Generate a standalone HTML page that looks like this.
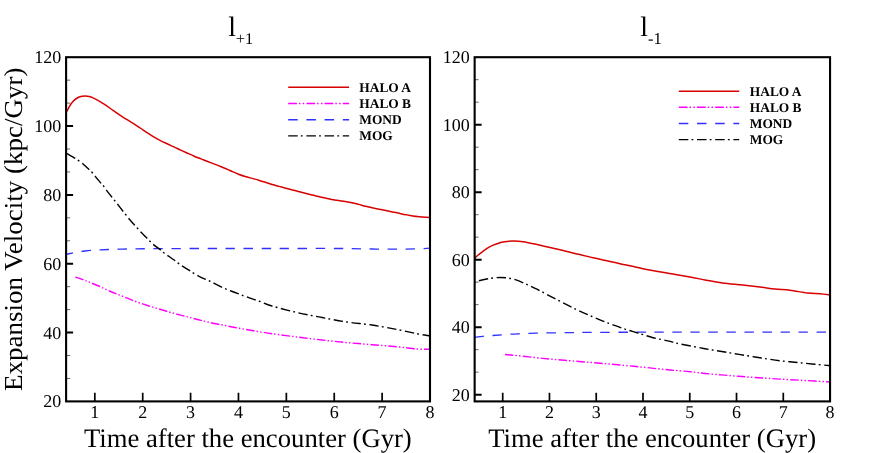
<!DOCTYPE html>
<html><head><meta charset="utf-8"><title>Expansion velocity</title>
<style>html,body{margin:0;padding:0;background:#fff;}svg{display:block;will-change:transform;}text{font-family:"Liberation Serif", serif;fill:#000;text-rendering:geometricPrecision;}</style>
</head><body>
<svg width="889" height="453" viewBox="0 0 889 453">
<rect width="889" height="453" fill="#fff"/>
<clipPath id="cl"><rect x="66.10" y="57.20" width="363.90" height="344.20"/></clipPath>
<g clip-path="url(#cl)" fill="none" stroke-width="1.40" stroke-linecap="butt" stroke-linejoin="round">
<path d="M66.00 112.60 C66.15 112.37 66.13 112.55 66.90 111.20 C67.67 109.85 69.32 106.38 70.60 104.50 C71.88 102.62 73.27 101.10 74.60 99.90 C75.93 98.70 77.28 97.92 78.60 97.30 C79.92 96.68 81.40 96.43 82.50 96.20 C83.60 95.97 84.08 95.85 85.20 95.90 C86.32 95.95 87.88 96.17 89.20 96.50 C90.52 96.83 91.57 97.22 93.10 97.90 C94.63 98.58 96.63 99.60 98.40 100.60 C100.17 101.60 101.70 102.58 103.70 103.90 C105.70 105.22 108.18 106.95 110.40 108.50 C112.62 110.05 114.80 111.68 117.00 113.20 C119.20 114.72 121.98 116.57 123.60 117.60 C125.22 118.63 125.05 118.40 126.70 119.40 C128.35 120.40 131.25 122.17 133.50 123.60 C135.75 125.03 137.95 126.50 140.20 128.00 C142.45 129.50 144.75 131.12 147.00 132.60 C149.25 134.08 151.45 135.57 153.70 136.90 C155.95 138.23 158.25 139.45 160.50 140.60 C162.75 141.75 164.95 142.75 167.20 143.80 C169.45 144.85 171.75 145.85 174.00 146.90 C176.25 147.95 178.45 149.05 180.70 150.10 C182.95 151.15 185.25 152.18 187.50 153.20 C189.75 154.22 191.95 155.25 194.20 156.20 C196.45 157.15 198.75 158.02 201.00 158.90 C203.25 159.78 205.45 160.63 207.70 161.50 C209.95 162.37 212.25 163.22 214.50 164.10 C216.75 164.98 218.95 165.88 221.20 166.80 C223.45 167.72 226.25 168.85 228.00 169.60 C229.75 170.35 229.95 170.53 231.70 171.30 C233.45 172.07 236.25 173.33 238.50 174.20 C240.75 175.07 242.95 175.80 245.20 176.50 C247.45 177.20 249.75 177.78 252.00 178.40 C254.25 179.02 256.45 179.55 258.70 180.20 C260.95 180.85 263.25 181.58 265.50 182.30 C267.75 183.02 269.95 183.82 272.20 184.50 C274.45 185.18 276.75 185.78 279.00 186.40 C281.25 187.02 283.45 187.60 285.70 188.20 C287.95 188.80 290.25 189.42 292.50 190.00 C294.75 190.58 296.95 191.12 299.20 191.70 C301.45 192.28 303.75 192.93 306.00 193.50 C308.25 194.07 310.45 194.57 312.70 195.10 C314.95 195.63 317.25 196.17 319.50 196.70 C321.75 197.23 324.17 197.83 326.20 198.30 C328.23 198.77 329.65 199.12 331.70 199.50 C333.75 199.88 336.25 200.27 338.50 200.60 C340.75 200.93 342.95 201.15 345.20 201.50 C347.45 201.85 349.75 202.22 352.00 202.70 C354.25 203.18 356.45 203.80 358.70 204.40 C360.95 205.00 363.25 205.73 365.50 206.30 C367.75 206.87 369.95 207.32 372.20 207.80 C374.45 208.28 376.75 208.75 379.00 209.20 C381.25 209.65 383.45 210.05 385.70 210.50 C387.95 210.95 390.25 211.43 392.50 211.90 C394.75 212.37 396.95 212.83 399.20 213.30 C401.45 213.77 403.75 214.27 406.00 214.70 C408.25 215.13 410.45 215.57 412.70 215.90 C414.95 216.23 417.25 216.47 419.50 216.70 C421.75 216.93 424.42 217.15 426.20 217.30 C427.98 217.45 429.53 217.55 430.20 217.60" stroke="#d80000" stroke-width="1.5"/>
<path d="M75.50 277.00 C77.08 277.58 81.33 279.08 85.00 280.50 C88.67 281.92 93.33 283.71 97.50 285.50 C101.67 287.29 105.83 289.46 110.00 291.25 C114.17 293.04 118.33 294.58 122.50 296.25 C126.67 297.92 130.83 299.71 135.00 301.25 C139.17 302.79 143.33 304.17 147.50 305.50 C151.67 306.83 155.83 308.00 160.00 309.25 C164.17 310.50 168.33 311.83 172.50 313.00 C176.67 314.17 180.83 315.17 185.00 316.25 C189.17 317.33 193.33 318.46 197.50 319.50 C201.67 320.54 205.83 321.58 210.00 322.50 C214.17 323.42 218.33 324.17 222.50 325.00 C226.67 325.83 230.83 326.70 235.00 327.50 C239.17 328.30 243.33 329.08 247.50 329.80 C251.67 330.52 255.92 331.15 260.00 331.80 C264.08 332.45 265.83 332.83 272.00 333.70 C278.17 334.57 288.67 335.95 297.00 337.00 C305.33 338.05 313.67 339.07 322.00 340.00 C330.33 340.93 338.67 341.82 347.00 342.60 C355.33 343.38 363.67 344.01 372.00 344.70 C380.33 345.39 389.50 346.03 397.00 346.75 C404.50 347.47 411.58 348.58 417.00 349.00 C422.42 349.42 427.42 349.21 429.50 349.25" stroke="#ff00ff" stroke-dasharray="8.6 2 1.5 2.15 1.5 2.15" stroke-dashoffset="0"/>
<path d="M66.00 254.60 C66.67 254.42 68.50 253.87 70.00 253.50 C71.50 253.13 72.50 252.82 75.00 252.40 C77.50 251.98 80.83 251.42 85.00 251.00 C89.17 250.58 93.75 250.22 100.00 249.90 C106.25 249.58 112.50 249.32 122.50 249.10 C132.50 248.88 143.75 248.70 160.00 248.60 C176.25 248.50 199.67 248.52 220.00 248.50 C240.33 248.48 262.00 248.50 282.00 248.50 C302.00 248.50 325.00 248.42 340.00 248.50 C355.00 248.58 362.00 248.88 372.00 249.00 C382.00 249.12 392.50 249.22 400.00 249.20 C407.50 249.18 411.97 249.07 417.00 248.90 C422.03 248.73 428.00 248.32 430.20 248.20" stroke="#3030ff" stroke-dasharray="9.4 8.6" stroke-dashoffset="2.0" stroke-width="1.3"/>
<path d="M66.00 153.00 C66.22 153.12 65.75 152.82 67.30 153.70 C68.85 154.58 73.38 157.12 75.30 158.30 C77.22 159.48 77.63 159.98 78.80 160.80 C79.97 161.62 80.57 161.73 82.30 163.20 C84.03 164.67 87.57 168.05 89.20 169.60 C90.83 171.15 91.12 171.40 92.10 172.50 C93.08 173.60 93.55 174.33 95.10 176.20 C96.65 178.07 99.97 182.03 101.40 183.70 C102.83 185.37 102.87 185.13 103.70 186.20 C104.53 187.27 104.98 188.22 106.40 190.10 C107.82 191.98 110.80 195.73 112.20 197.50 C113.60 199.27 113.97 199.65 114.80 200.70 C115.63 201.75 115.80 202.00 117.20 203.80 C118.60 205.60 121.77 209.68 123.20 211.50 C124.63 213.32 124.92 213.58 125.80 214.70 C126.68 215.82 127.02 216.43 128.50 218.20 C129.98 219.97 133.20 223.62 134.70 225.30 C136.20 226.98 136.53 227.25 137.50 228.30 C138.47 229.35 138.93 229.97 140.50 231.60 C142.07 233.23 145.33 236.50 146.90 238.10 C148.47 239.70 148.88 240.18 149.90 241.20 C150.92 242.22 151.23 242.75 153.00 244.20 C154.77 245.65 158.70 248.47 160.50 249.90 C162.30 251.33 162.68 251.92 163.80 252.80 C164.92 253.68 165.32 253.87 167.20 255.20 C169.08 256.53 173.23 259.43 175.10 260.80 C176.97 262.17 177.30 262.57 178.40 263.40 C179.50 264.23 179.82 264.58 181.70 265.80 C183.58 267.02 187.82 269.52 189.70 270.70 C191.58 271.88 191.90 272.23 193.00 272.90 C194.10 273.57 195.13 274.05 196.30 274.70 C197.47 275.35 197.72 275.71 200.00 276.80 C202.28 277.89 206.25 279.47 210.00 281.25 C213.75 283.03 218.33 285.62 222.50 287.50 C226.67 289.38 230.83 290.88 235.00 292.50 C239.17 294.12 243.33 295.70 247.50 297.20 C251.67 298.70 255.92 300.03 260.00 301.50 C264.08 302.97 265.83 304.17 272.00 306.00 C278.17 307.83 288.67 310.58 297.00 312.50 C305.33 314.42 313.67 315.92 322.00 317.50 C330.33 319.08 338.67 320.75 347.00 322.00 C355.33 323.25 363.67 323.75 372.00 325.00 C380.33 326.25 389.50 328.04 397.00 329.50 C404.50 330.96 411.58 332.71 417.00 333.75 C422.42 334.79 427.42 335.42 429.50 335.75" stroke="#000" stroke-dasharray="9.4 3.2 1.8 3.6" stroke-dashoffset="16.7"/>
</g>
<g stroke="#000" fill="none">
<path d="M66.10 378.45 h4.0M66.10 355.51 h4.0M66.10 309.61 h4.0M66.10 286.67 h4.0M66.10 240.77 h4.0M66.10 217.83 h4.0M66.10 171.93 h4.0M66.10 148.99 h4.0M66.10 103.09 h4.0M66.10 80.15 h4.0" stroke-width="0.6"/>
<path d="M66.10 332.56 h7.0M66.10 263.72 h7.0M66.10 194.88 h7.0M66.10 126.04 h7.0" stroke-width="2"/>
<path d="M94.83 401.40 v-8.6M142.71 401.40 v-8.6M190.59 401.40 v-8.6M238.47 401.40 v-8.6M286.36 401.40 v-8.6M334.24 401.40 v-8.6M382.12 401.40 v-8.6" stroke-width="1.7"/>
<rect x="66.10" y="57.20" width="363.90" height="344.20" stroke-width="2.1"/>
</g>
<g font-size="18px" transform="translate(0 -0.4)">
<text x="61.30" y="407.90" text-anchor="end">20</text>
<text x="61.30" y="339.06" text-anchor="end">40</text>
<text x="61.30" y="270.22" text-anchor="end">60</text>
<text x="61.30" y="201.38" text-anchor="end">80</text>
<text x="61.30" y="132.54" text-anchor="end">100</text>
<text x="61.30" y="63.70" text-anchor="end">120</text>
<text x="94.83" y="418.10" text-anchor="middle">1</text>
<text x="142.71" y="418.10" text-anchor="middle">2</text>
<text x="190.59" y="418.10" text-anchor="middle">3</text>
<text x="238.47" y="418.10" text-anchor="middle">4</text>
<text x="286.36" y="418.10" text-anchor="middle">5</text>
<text x="334.24" y="418.10" text-anchor="middle">6</text>
<text x="382.12" y="418.10" text-anchor="middle">7</text>
<text x="430.00" y="418.10" text-anchor="middle">8</text>
</g>
<text x="247.85" y="446.9" font-size="26.68px" text-anchor="middle">Time after the encounter (Gyr)</text>
<clipPath id="cr"><rect x="474.65" y="57.20" width="355.40" height="344.20"/></clipPath>
<g clip-path="url(#cr)" fill="none" stroke-width="1.40" stroke-linecap="butt" stroke-linejoin="round">
<path d="M474.60 258.60 C475.00 258.17 475.60 257.22 477.00 256.00 C478.40 254.78 480.83 252.87 483.00 251.30 C485.17 249.73 487.67 247.85 490.00 246.60 C492.33 245.35 494.83 244.55 497.00 243.80 C499.17 243.05 500.33 242.57 503.00 242.10 C505.67 241.63 509.67 241.07 513.00 241.00 C516.33 240.93 518.83 241.08 523.00 241.70 C527.17 242.32 532.58 243.53 538.00 244.70 C543.42 245.87 549.67 247.33 555.50 248.70 C561.33 250.07 566.75 251.38 573.00 252.90 C579.25 254.42 585.50 256.08 593.00 257.80 C600.50 259.52 609.67 261.38 618.00 263.20 C626.33 265.02 634.67 267.07 643.00 268.75 C651.33 270.43 660.17 271.88 668.00 273.25 C675.83 274.62 683.83 275.88 690.00 277.00 C696.17 278.12 699.58 279.00 705.00 280.00 C710.42 281.00 716.25 282.17 722.50 283.00 C728.75 283.83 736.25 284.33 742.50 285.00 C748.75 285.67 754.58 286.33 760.00 287.00 C765.42 287.67 770.00 288.46 775.00 289.00 C780.00 289.54 784.58 289.58 790.00 290.25 C795.42 290.92 802.50 292.42 807.50 293.00 C812.50 293.58 816.15 293.42 820.00 293.75 C823.85 294.08 828.83 294.79 830.60 295.00" stroke="#d80000" stroke-width="1.5"/>
<path d="M505.00 354.50 C507.17 354.70 511.67 355.05 518.00 355.70 C524.33 356.35 534.67 357.58 543.00 358.40 C551.33 359.22 559.67 359.90 568.00 360.60 C576.33 361.30 584.67 361.90 593.00 362.60 C601.33 363.30 609.67 364.03 618.00 364.80 C626.33 365.57 634.67 366.37 643.00 367.20 C651.33 368.03 660.17 369.05 668.00 369.80 C675.83 370.55 683.83 371.08 690.00 371.70 C696.17 372.32 698.33 372.85 705.00 373.50 C711.67 374.15 721.67 374.93 730.00 375.60 C738.33 376.27 746.67 376.92 755.00 377.50 C763.33 378.08 771.67 378.60 780.00 379.10 C788.33 379.60 796.57 380.02 805.00 380.50 C813.43 380.98 826.33 381.75 830.60 382.00" stroke="#ff00ff" stroke-dasharray="8.6 2 1.5 2.15 1.5 2.15" stroke-dashoffset="0"/>
<path d="M474.60 337.20 C476.00 337.05 479.93 336.58 483.00 336.30 C486.07 336.02 489.33 335.78 493.00 335.50 C496.67 335.22 500.83 334.88 505.00 334.60 C509.17 334.32 511.67 334.07 518.00 333.80 C524.33 333.53 534.33 333.20 543.00 333.00 C551.67 332.80 561.67 332.70 570.00 332.60 C578.33 332.50 581.33 332.47 593.00 332.40 C604.67 332.33 623.83 332.24 640.00 332.20 C656.17 332.16 663.33 332.16 690.00 332.15 C716.67 332.14 776.57 332.16 800.00 332.15 C823.43 332.14 825.50 332.11 830.60 332.10" stroke="#3030ff" stroke-dasharray="9.4 8.6" stroke-dashoffset="0.0" stroke-width="1.3"/>
<path d="M474.60 281.90 C474.96 281.79 474.52 281.77 476.75 281.25 C478.98 280.73 484.04 279.38 488.00 278.75 C491.96 278.12 496.33 277.46 500.50 277.50 C504.67 277.54 508.83 277.96 513.00 279.00 C517.17 280.04 521.33 281.96 525.50 283.75 C529.67 285.54 533.83 287.66 538.00 289.75 C542.17 291.84 546.33 294.13 550.50 296.30 C554.67 298.47 558.83 300.62 563.00 302.75 C567.17 304.88 571.33 307.09 575.50 309.10 C579.67 311.11 583.83 312.96 588.00 314.80 C592.17 316.64 596.33 318.47 600.50 320.15 C604.67 321.83 608.83 323.38 613.00 324.90 C617.17 326.42 621.33 327.95 625.50 329.30 C629.67 330.65 633.42 331.60 638.00 333.00 C642.58 334.40 648.00 336.38 653.00 337.70 C658.00 339.02 663.50 339.87 668.00 340.90 C672.50 341.93 673.83 342.60 680.00 343.90 C686.17 345.20 696.67 347.20 705.00 348.70 C713.33 350.20 721.67 351.52 730.00 352.90 C738.33 354.28 746.67 355.69 755.00 357.00 C763.33 358.31 771.67 359.71 780.00 360.75 C788.33 361.79 796.57 362.42 805.00 363.25 C813.43 364.08 826.33 365.33 830.60 365.75" stroke="#000" stroke-dasharray="9.4 3.2 1.8 3.6" stroke-dashoffset="13.5"/>
</g>
<g stroke="#000" fill="none">
<path d="M474.65 372.15 h4.0M474.65 349.66 h4.0M474.65 304.66 h4.0M474.65 282.17 h4.0M474.65 237.17 h4.0M474.65 214.68 h4.0M474.65 169.68 h4.0M474.65 147.19 h4.0M474.65 102.19 h4.0M474.65 79.70 h4.0" stroke-width="0.6"/>
<path d="M474.65 394.65 h7.0M474.65 327.16 h7.0M474.65 259.67 h7.0M474.65 192.18 h7.0M474.65 124.69 h7.0" stroke-width="2"/>
<path d="M502.71 401.40 v-8.6M549.47 401.40 v-8.6M596.23 401.40 v-8.6M643.00 401.40 v-8.6M689.76 401.40 v-8.6M736.52 401.40 v-8.6M783.29 401.40 v-8.6" stroke-width="1.7"/>
<rect x="474.65" y="57.20" width="355.40" height="344.20" stroke-width="2.1"/>
</g>
<g font-size="18px" transform="translate(0 -0.4)">
<text x="469.85" y="401.15" text-anchor="end">20</text>
<text x="469.85" y="333.66" text-anchor="end">40</text>
<text x="469.85" y="266.17" text-anchor="end">60</text>
<text x="469.85" y="198.68" text-anchor="end">80</text>
<text x="469.85" y="131.19" text-anchor="end">100</text>
<text x="469.85" y="63.70" text-anchor="end">120</text>
<text x="502.71" y="418.10" text-anchor="middle">1</text>
<text x="549.47" y="418.10" text-anchor="middle">2</text>
<text x="596.23" y="418.10" text-anchor="middle">3</text>
<text x="643.00" y="418.10" text-anchor="middle">4</text>
<text x="689.76" y="418.10" text-anchor="middle">5</text>
<text x="736.52" y="418.10" text-anchor="middle">6</text>
<text x="783.29" y="418.10" text-anchor="middle">7</text>
<text x="830.05" y="418.10" text-anchor="middle">8</text>
</g>
<text x="652.15" y="446.9" font-size="26.68px" text-anchor="middle">Time after the encounter (Gyr)</text>
<text transform="translate(22.4 229.2) rotate(-90) scale(1 0.96)" font-size="27px" text-anchor="middle">Expansion Velocity (kpc/Gyr)</text>
<text x="228.2" y="35.7" font-size="28px">l</text><text x="235.7" y="43.6" font-size="16.4px">+1</text>
<text x="640.2" y="35.7" font-size="28px">l</text><text x="648" y="43.6" font-size="16.6px">-1</text>
<g fill="none" stroke-width="1.40">
<path d="M288.20 87.35 H349.10" stroke="#d80000" stroke-width="1.5"/>
<path d="M288.20 103.50 H349.10" stroke="#ff00ff" stroke-dasharray="8.7 2 1.5 2.3 1.5 2.2"/>
<path d="M288.20 119.75 H349.10" stroke="#3030ff" stroke-dasharray="9.5 8.7" stroke-width="1.3"/>
<path d="M288.20 135.85 H349.10" stroke="#000" stroke-dasharray="9.5 3.2 1.8 3.7"/>
</g>
<g font-size="13.4px" font-weight="bold">
<text x="359.30" y="91.55">HALO A</text>
<text x="359.30" y="107.70">HALO B</text>
<text x="359.30" y="123.95">MOND</text>
<text x="359.30" y="140.05">MOG</text>
</g>
<g fill="none" stroke-width="1.40">
<path d="M678.80 91.30 H739.20" stroke="#d80000" stroke-width="1.5"/>
<path d="M678.80 107.30 H739.20" stroke="#ff00ff" stroke-dasharray="8.7 2 1.5 2.3 1.5 2.2"/>
<path d="M678.80 123.50 H739.20" stroke="#3030ff" stroke-dasharray="9.5 8.7" stroke-width="1.3"/>
<path d="M678.80 139.60 H739.20" stroke="#000" stroke-dasharray="9.5 3.2 1.8 3.7"/>
</g>
<g font-size="13.4px" font-weight="bold">
<text x="749.80" y="95.50">HALO A</text>
<text x="749.80" y="111.50">HALO B</text>
<text x="749.80" y="127.70">MOND</text>
<text x="749.80" y="143.80">MOG</text>
</g>
</svg></body></html>
